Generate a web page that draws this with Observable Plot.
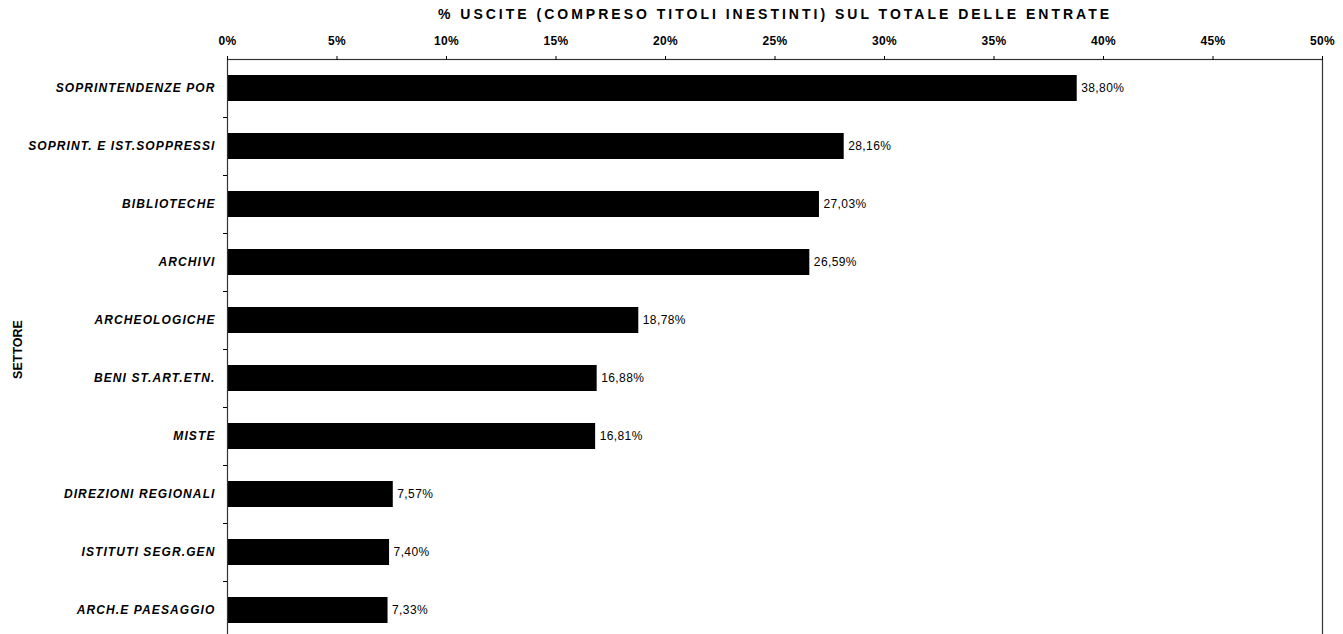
<!DOCTYPE html>
<html><head><meta charset="utf-8">
<script src="https://cdn.jsdelivr.net/npm/d3@7"></script>
<script src="https://cdn.jsdelivr.net/npm/@observablehq/plot@0.6"></script>
<style>
body{margin:0;overflow:hidden;background:#fff;font-family:"Liberation Sans",Arial,sans-serif}
g[aria-label="x-axis label"] text{letter-spacing:3px}
g[aria-label="y-axis tick label"] text{letter-spacing:1.1px}
g[aria-label="x-axis tick label"] text{letter-spacing:0.4px}
g[aria-label="text"] text{letter-spacing:0.4px}
</style>
</head><body><div id="chart"></div>
<script>
const categories = ["SOPRINTENDENZE POR", "SOPRINT. E IST.SOPPRESSI", "BIBLIOTECHE", "ARCHIVI", "ARCHEOLOGICHE", "BENI ST.ART.ETN.", "MISTE", "DIREZIONI REGIONALI", "ISTITUTI SEGR.GEN", "ARCH.E PAESAGGIO"];
const values = [38.80, 28.16, 27.03, 26.59, 18.78, 16.88, 16.81, 7.57, 7.40, 7.33];
const valueLabels = ["38,80%", "28,16%", "27,03%", "26,59%", "18,78%", "16,88%", "16,81%", "7,57%", "7,40%", "7,33%"];
const xTicks = [0, 5, 10, 15, 20, 25, 30, 35, 40, 45, 50];
const xTickLabels = ["0%", "5%", "10%", "15%", "20%", "25%", "30%", "35%", "40%", "45%", "50%"];
const xTitle = "% USCITE (COMPRESO TITOLI INESTINTI) SUL TOTALE DELLE ENTRATE";
const yTitle = "SETTORE";

const data = categories.map((c, i) => ({cat: c, value: values[i], label: valueLabels[i]}));

const chart = Plot.plot({
  width: 1343,
  height: 640,
  marginLeft: 227,
  marginRight: 21,
  marginTop: 59,
  marginBottom: 1,
  style: {fontFamily: "Liberation Sans, Arial, sans-serif", background: "#fff", color: "#000"},
  x: {domain: [0, 50]},
  y: {domain: categories, paddingInner: 0.56, paddingOuter: 0.28},
  marks: [
    Plot.barX(data, {x: "value", y: "cat", fill: "#000"}),
    Plot.text(data, {x: "value", y: "cat", text: "label", dx: 4, textAnchor: "start", fontSize: 12, fill: "#000"}),
    Plot.frame({stroke: "#333", strokeWidth: 1.2}),
    Plot.axisX({anchor: "top", ticks: xTicks, tickFormat: (d) => xTickLabels[xTicks.indexOf(d)], tickSize: 4, tickPadding: 11, fontSize: 12, fontWeight: "bold", label: null}),
    Plot.axisX({anchor: "top", ticks: [], label: xTitle, labelAnchor: "center", labelOffset: 50, fontSize: 14, fontWeight: "bold", labelArrow: "none"}),
    Plot.axisY({anchor: "left", tickSize: 0, tickPadding: 12, fontSize: 12, fontStyle: "italic", fontWeight: "bold", label: null}),
    Plot.axisY({anchor: "left", tickSize: 4, text: null, dy: 29, label: null}),
    Plot.axisY({anchor: "left", ticks: [], label: yTitle, labelAnchor: "center", labelOffset: 214, fontSize: 12.5, fontWeight: "bold", labelArrow: "none"})
  ]
});
document.getElementById("chart").appendChild(chart);
</script>
</body></html>
